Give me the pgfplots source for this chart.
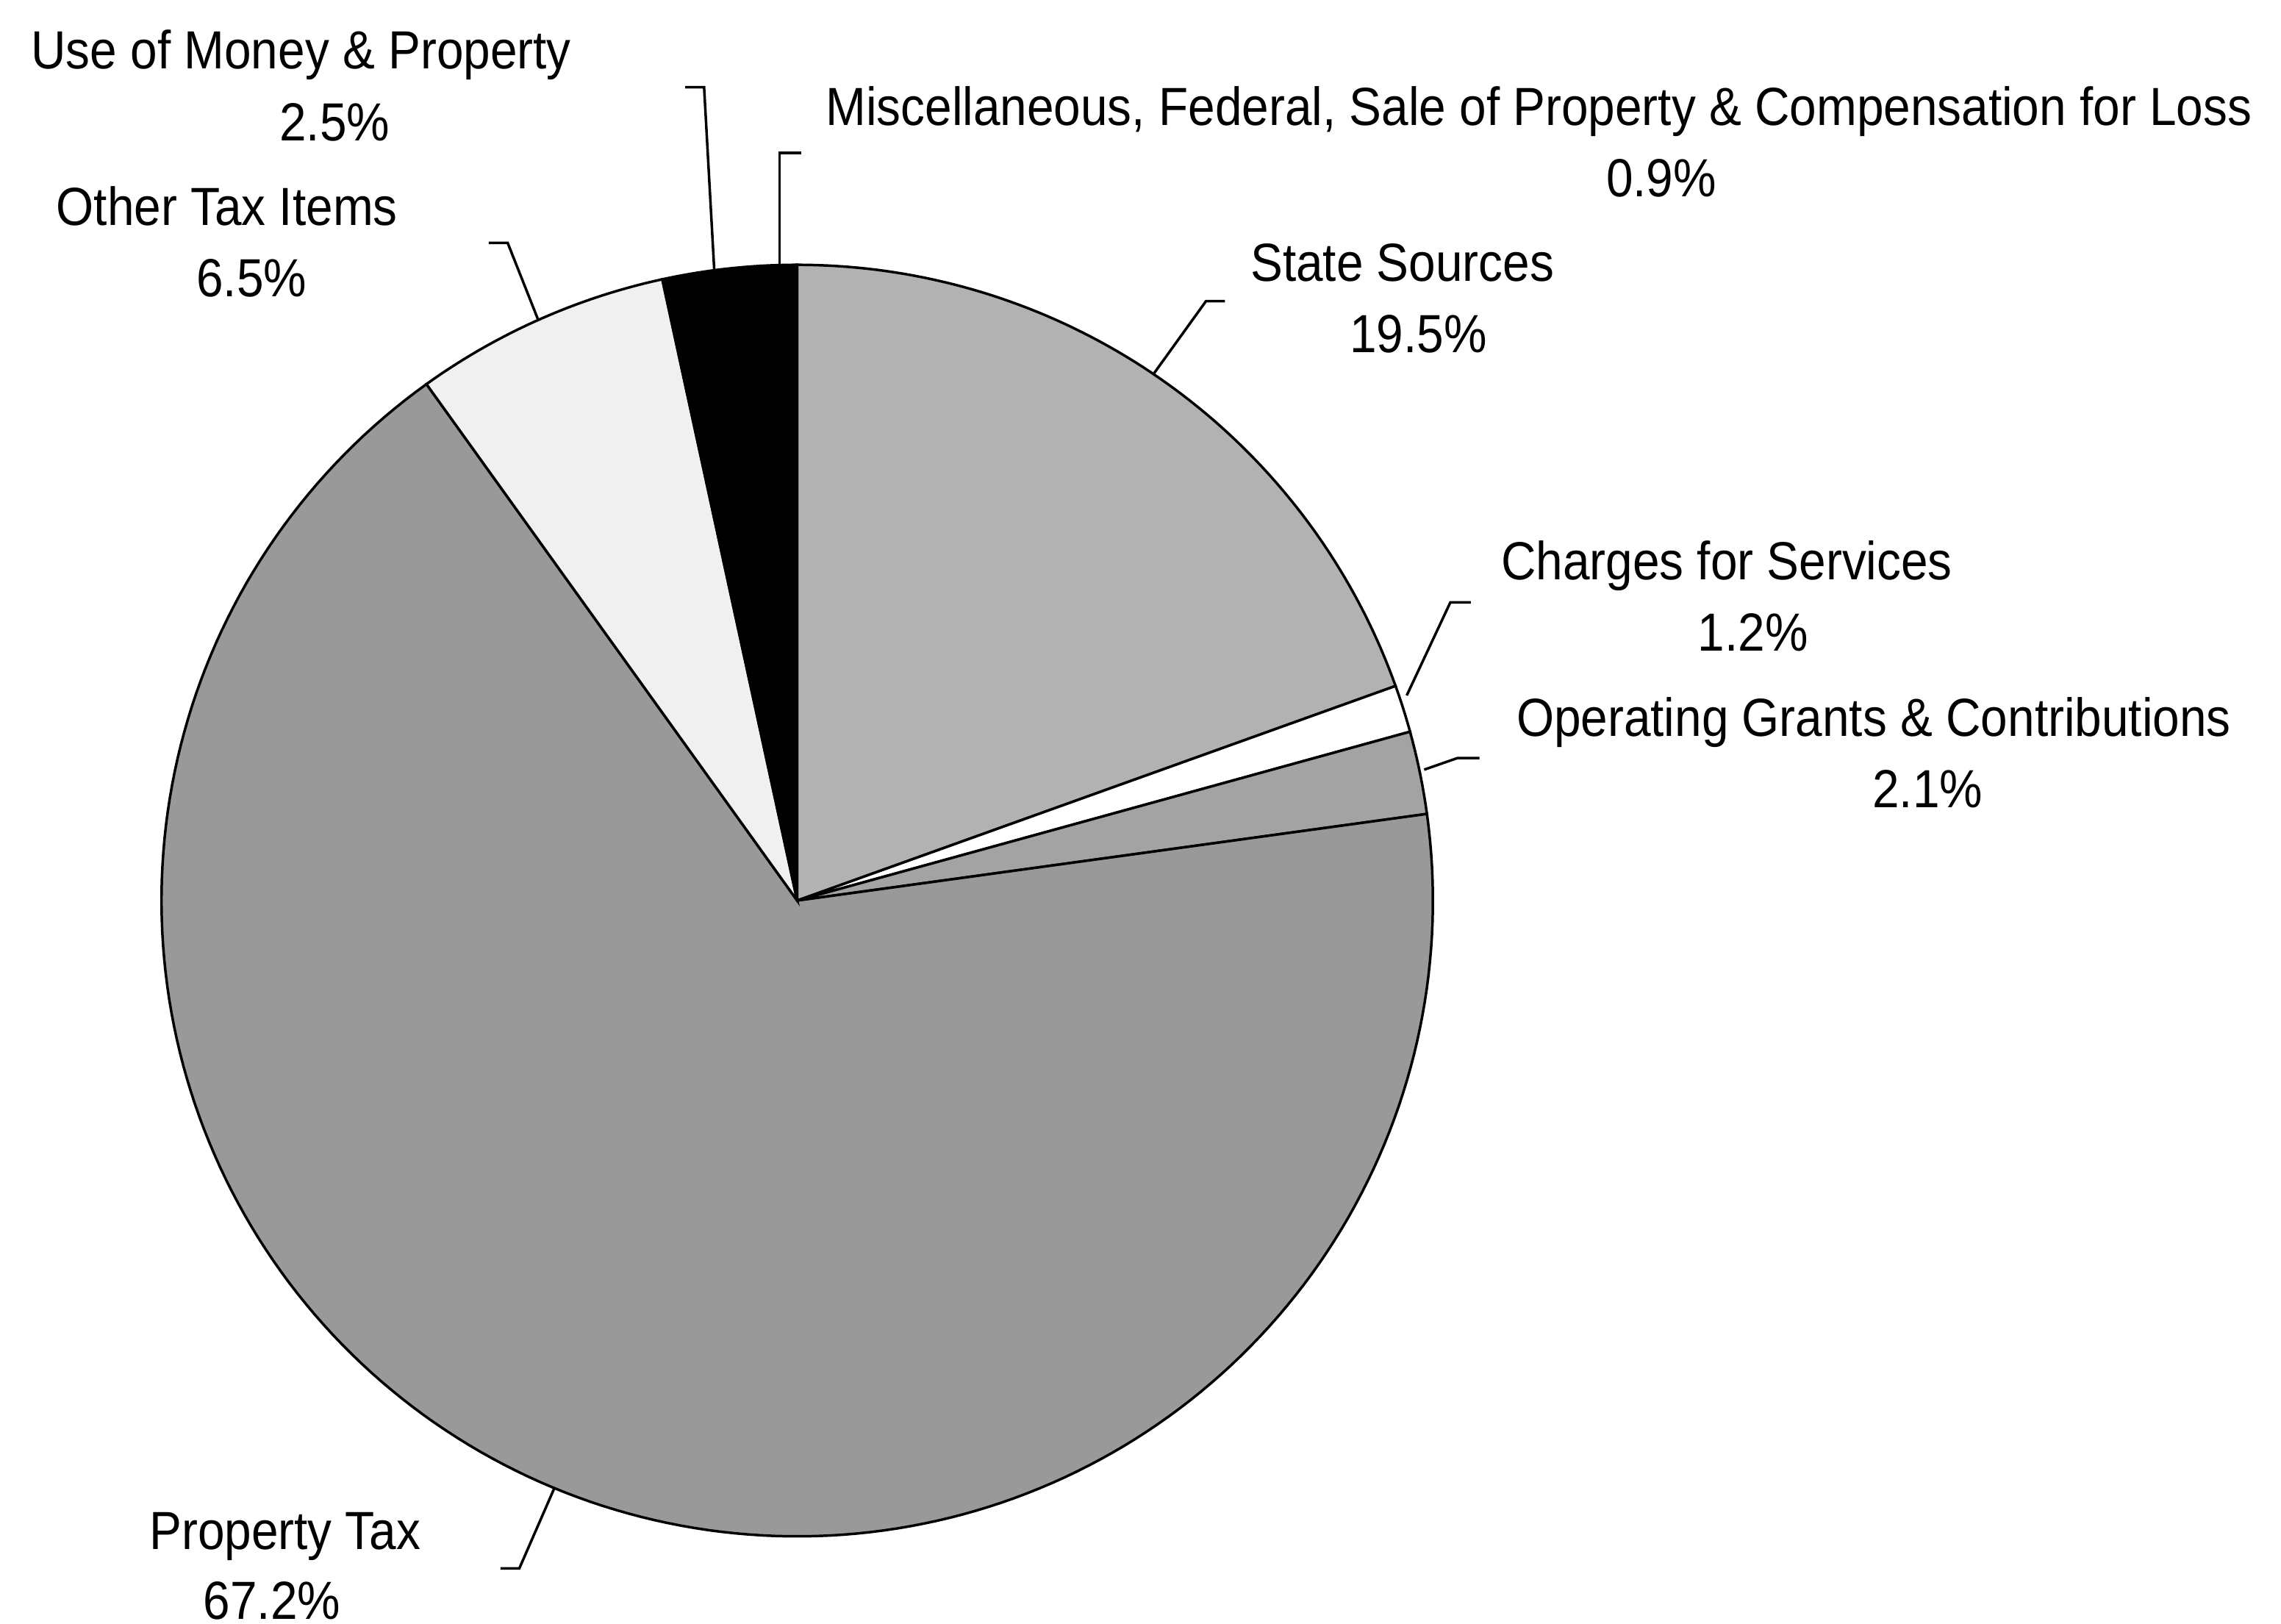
\documentclass[border=0pt]{standalone}
\usepackage{fontspec}
\setmainfont{Liberation Sans}[FakeStretch=0.9]
\usepackage{pgfplots}
\pgfplotsset{compat=1.18}
\newcommand\lbl{\fontsize{10.5}{12}\selectfont}
% pie centre and radius (axis units)
\def\cx{548}\def\cy{497}\def\R{437}
% shares in percent
\def\pState{19.5}\def\pCharges{1.2}\def\pOper{2.1}\def\pProp{67.2}
\def\pOther{6.5}\def\pUse{2.5}\def\pMisc{0.9}
\pgfmathsetmacro\tot{\pState+\pCharges+\pOper+\pProp+\pOther+\pUse+\pMisc}
\pgfmathsetmacro\k{360/\tot}
\pgfmathsetmacro\aA{90}
\pgfmathsetmacro\aB{\aA-\pState*\k}
\pgfmathsetmacro\aC{\aB-\pCharges*\k}
\pgfmathsetmacro\aD{\aC-\pOper*\k}
\pgfmathsetmacro\aE{\aD-\pProp*\k}
\pgfmathsetmacro\aF{\aE-\pOther*\k}
\pgfmathsetmacro\aG{\aF-\pUse*\k}
\pgfmathsetmacro\aH{\aG-\pMisc*\k}
\begin{document}
\begin{tikzpicture}
\begin{axis}[scale only axis, width=15.68cm, height=11.16cm,
  xmin=0, xmax=1568, ymin=0, ymax=1116, hide axis, clip=false]
\path (rel axis cs:0,0) rectangle (rel axis cs:1,1);
% slices
\addplot[draw=black, line width=0.5pt, fill=black!30, domain=\aB:\aA, samples=80]
  ({\cx+\R*cos(x)},{\cy+\R*sin(x)}) -- (axis cs:\cx,\cy) -- cycle;
\addplot[draw=black, line width=0.5pt, fill=white, domain=\aC:\aB, samples=10]
  ({\cx+\R*cos(x)},{\cy+\R*sin(x)}) -- (axis cs:\cx,\cy) -- cycle;
\addplot[draw=black, line width=0.5pt, fill=black!36, domain=\aD:\aC, samples=10]
  ({\cx+\R*cos(x)},{\cy+\R*sin(x)}) -- (axis cs:\cx,\cy) -- cycle;
\addplot[draw=black, line width=0.5pt, fill=black!40, domain=\aE:\aD, samples=200]
  ({\cx+\R*cos(x)},{\cy+\R*sin(x)}) -- (axis cs:\cx,\cy) -- cycle;
\addplot[draw=black, line width=0.5pt, fill=black!6, domain=\aF:\aE, samples=30]
  ({\cx+\R*cos(x)},{\cy+\R*sin(x)}) -- (axis cs:\cx,\cy) -- cycle;
\addplot[draw=black, line width=0.5pt, fill=black, domain=\aG:\aF, samples=15]
  ({\cx+\R*cos(x)},{\cy+\R*sin(x)}) -- (axis cs:\cx,\cy) -- cycle;
\addplot[draw=black, line width=0.5pt, fill=black, domain=\aH:\aG, samples=8]
  ({\cx+\R*cos(x)},{\cy+\R*sin(x)}) -- (axis cs:\cx,\cy) -- cycle;
% leader lines
\addplot[black, line width=0.5pt] coordinates {(471,1056) (484,1056) (491,930)};
\addplot[black, line width=0.5pt] coordinates {(551,1011) (536,1011) (536,934)};
\addplot[black, line width=0.5pt] coordinates {(336,949) (349,949) (370,896)};
\addplot[black, line width=0.5pt] coordinates {(842,909) (829,909) (793,859)};
\addplot[black, line width=0.5pt] coordinates {(1011,702) (997,702) (967,638)};
\addplot[black, line width=0.5pt] coordinates {(1017,595) (1002,595) (979,587)};
\addplot[black, line width=0.5pt] coordinates {(344,38) (357,38) (381,93)};
% labels
\tikzset{lab/.style={font=\lbl, inner sep=0pt}}
\node[lab, anchor=base] at (axis cs:207,1069) {Use of Money \& Property};
\node[lab, anchor=base] at (axis cs:230,1019) {2.5\%};
\node[lab, anchor=base] at (axis cs:156,961) {Other Tax Items};
\node[lab, anchor=base] at (axis cs:173,912) {6.5\%};
\node[lab, anchor=base west] at (axis cs:567,1030) {Miscellaneous, Federal, Sale of Property \& Compensation for Loss};
\node[lab, anchor=base] at (axis cs:1142,981) {0.9\%};
\node[lab, anchor=base] at (axis cs:964,922.5) {State Sources};
\node[lab, anchor=base] at (axis cs:975,873.5) {19.5\%};
\node[lab, anchor=base] at (axis cs:1187,717.5) {Charges for Services};
\node[lab, anchor=base] at (axis cs:1205,668.5) {1.2\%};
\node[lab, anchor=base] at (axis cs:1288,610) {Operating Grants \& Contributions};
\node[lab, anchor=base] at (axis cs:1325,561) {2.1\%};
\node[lab, anchor=base] at (axis cs:196,51) {Property Tax};
\node[lab, anchor=base] at (axis cs:187,3) {67.2\%};
\end{axis}
\end{tikzpicture}
\end{document}
